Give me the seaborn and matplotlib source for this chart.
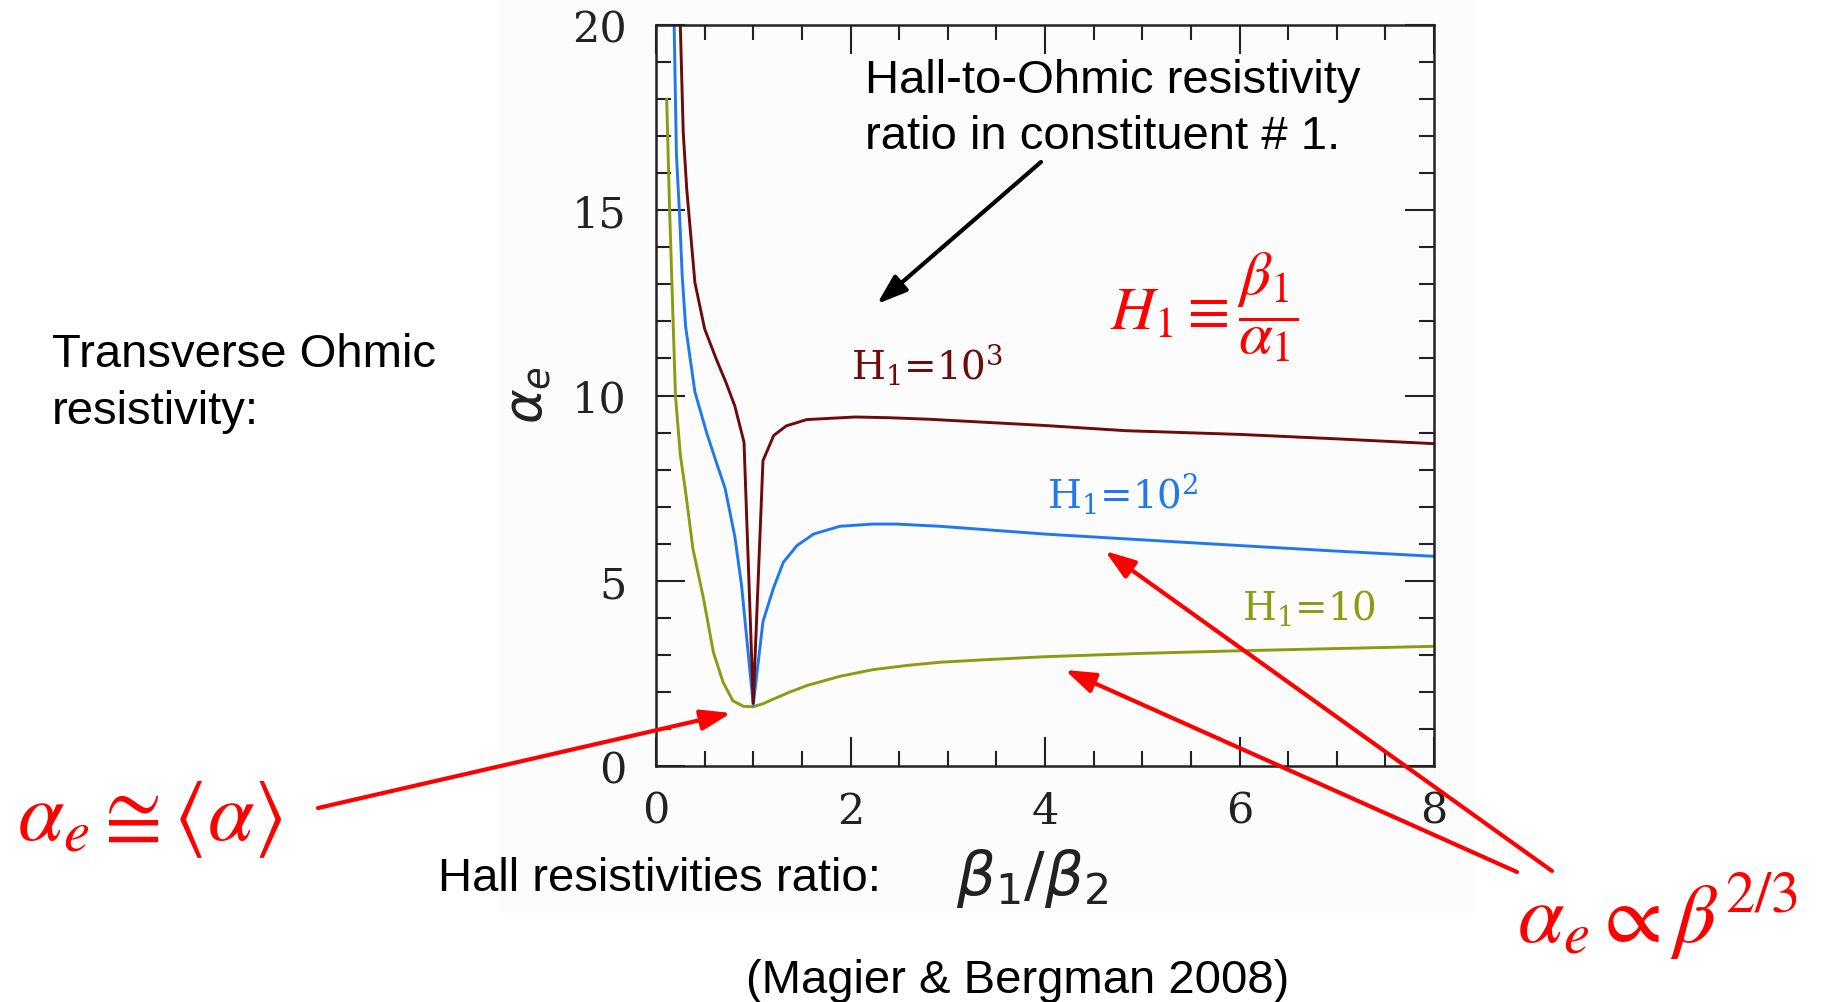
import pandas as pd
import matplotlib
matplotlib.use("Agg")
import matplotlib.pyplot as plt
import seaborn as sns
from matplotlib.ticker import MultipleLocator
from matplotlib.patches import Rectangle

W, H = 1828, 1003

# curves: beta1/beta2 vs alpha_e
ratio_h10 = [0.11, 0.14, 0.20, 0.25, 0.30, 0.38, 0.49, 0.59, 0.69, 0.79, 0.90, 1.00,
             1.10, 1.21, 1.38, 1.55, 1.89, 2.23, 2.60, 2.92, 3.40, 4.00, 5.00, 6.00, 7.00, 8.00]
alpha_h10 = [18.0, 15.0, 10.0, 8.4, 7.48, 5.86, 4.50, 3.07, 2.26, 1.76, 1.61, 1.60,
             1.68, 1.81, 2.00, 2.17, 2.42, 2.60, 2.72, 2.80, 2.87, 2.95, 3.04, 3.11, 3.17, 3.23]

ratio_h100 = [0.18, 0.21, 0.24, 0.27, 0.305, 0.40, 0.52, 0.62, 0.71, 0.81, 0.88, 1.00,
              1.10, 1.21, 1.31, 1.45, 1.62, 1.89, 2.23, 2.47, 2.92, 4.00, 4.83, 6.00, 7.00, 8.00]
alpha_h100 = [21.0, 16.5, 15.0, 13.2, 11.85, 10.1, 9.0, 8.2, 7.5, 6.2, 4.87, 1.65,
              3.9, 4.82, 5.5, 5.95, 6.26, 6.47, 6.53, 6.53, 6.47, 6.26, 6.13, 5.95, 5.80, 5.66]

ratio_h1000 = [0.245, 0.25, 0.28, 0.316, 0.40, 0.50, 0.62, 0.72, 0.81, 0.905, 1.00,
               1.10, 1.21, 1.34, 1.55, 2.05, 2.40, 2.80, 4.00, 4.83, 6.00, 7.00, 8.00]
alpha_h1000 = [21.0, 20.0, 17.1, 15.57, 13.05, 11.8, 10.98, 10.35, 9.72, 8.74, 1.70,
               8.24, 8.92, 9.18, 9.35, 9.42, 9.40, 9.36, 9.19, 9.05, 8.95, 8.83, 8.70]

series_names = ["H1=10", "H1=100", "H1=1000"]
series_colors = ["#8b9b12", "#1f78f0", "#6e0a0a"]
x_ticks = [0, 2, 4, 6, 8]
y_ticks = [0, 5, 10, 15, 20]

df = pd.concat([
    pd.DataFrame({"ratio": ratio_h10, "alpha_e": alpha_h10, "H": series_names[0]}),
    pd.DataFrame({"ratio": ratio_h100, "alpha_e": alpha_h100, "H": series_names[1]}),
    pd.DataFrame({"ratio": ratio_h1000, "alpha_e": alpha_h1000, "H": series_names[2]}),
], ignore_index=True)

sns.set_theme(style="ticks")
plt.rcParams["font.family"] = ["Liberation Sans", "DejaVu Sans"]
plt.rcParams["text.color"] = "black"


def fx(px):
    return px / W


def fy(py):
    return 1 - py / H


fig = plt.figure(figsize=(W / 100, H / 100), dpi=100)
# faint grey panel behind the plot (as in the source slide)
fig.patches.append(Rectangle((fx(500), fy(913)), (1474 - 500) / W, 913 / H,
                             transform=fig.transFigure, color="#fcfcfc", zorder=-5))

ax = fig.add_axes([fx(656), fy(767), (1434 - 656) / W, (767 - 26) / H])
ax.set_facecolor("none")

sns.lineplot(data=df, x="ratio", y="alpha_e", hue="H",
             palette=dict(zip(series_names, series_colors)),
             estimator=None, sort=False, legend=False, linewidth=2.1, ax=ax)

ax.set_xlim(0, 8)
ax.set_ylim(0, 20)
ax.set_xticks(x_ticks)
ax.set_yticks(y_ticks)
ax.set_xticklabels([str(t) for t in x_ticks], fontfamily="DejaVu Serif", fontsize=31)
ax.set_yticklabels([str(t) for t in y_ticks], fontfamily="DejaVu Serif", fontsize=31)
ax.xaxis.set_minor_locator(MultipleLocator(0.5))
ax.yaxis.set_minor_locator(MultipleLocator(1))
ax.tick_params(which="both", direction="in", top=True, right=True,
               width=1.5, color="#222222", labelcolor="#222222")
ax.tick_params(which="major", length=21)
ax.tick_params(axis="x", which="major", pad=17)
ax.tick_params(axis="y", which="major", pad=21)
ax.tick_params(which="minor", length=11)
for s in ax.spines.values():
    s.set_linewidth(1.8)
    s.set_color("#222222")

ax.set_xlabel("")
ax.set_ylabel(r"$\alpha_e$", fontsize=38, math_fontfamily="dejavusans", color="#222222")
ax.yaxis.set_label_coords(-0.132, 0.502)

# curve labels
for txt, col, px, py in [("H$_1$=10$^3$", series_colors[2], 851, 379),
                         ("H$_1$=10$^2$", series_colors[1], 1047, 508),
                         ("H$_1$=10", series_colors[0], 1242, 620)]:
    fig.text(fx(px), fy(py), txt, color=col, fontsize=28, fontfamily="DejaVu Serif",
             math_fontfamily="dejavuserif", va="baseline", ha="left")

# black text
fig.text(fx(865), fy(93), "Hall-to-Ohmic resistivity", fontsize=34, va="baseline")
fig.text(fx(865), fy(149), "ratio in constituent # 1.", fontsize=34, va="baseline")
fig.text(fx(52), fy(367), "Transverse Ohmic", fontsize=34, va="baseline")
fig.text(fx(52), fy(424), "resistivity:", fontsize=34, va="baseline")
fig.text(fx(438), fy(891), "Hall resistivities ratio:", fontsize=34, va="baseline")
fig.text(fx(956), fy(895), r"$\beta_1/\beta_2$", fontsize=44, va="baseline",
         math_fontfamily="dejavusans", color="#222222")
fig.text(fx(1018), fy(993), "(Magier & Bergman 2008)", fontsize=34, va="baseline", ha="center")

# red formulas
fig.text(fx(1110), fy(307), r"$H_1 \equiv \dfrac{\beta_1}{\alpha_1}$", fontsize=44,
         color="red", math_fontfamily="stix", va="center", ha="left")
fig.text(fx(17), fy(840), r"$\alpha_e \cong \langle\alpha\rangle$", fontsize=60,
         color="red", math_fontfamily="stix", va="baseline", ha="left")
fig.text(fx(1517), fy(943), r"$\alpha_e \propto \beta^{2/3}$", fontsize=60,
         color="red", math_fontfamily="stix", va="baseline", ha="left")

# arrows
arrows = [((1041, 163), (877, 305), "black"),
          ((318, 809), (731, 714), "red"),
          ((1517, 873), (1065, 671), "red"),
          ((1552, 872), (1105, 552), "red")]
for (x0, y0), (x1, y1), col in arrows:
    ax.annotate("", xy=(fx(x1), fy(y1)), xytext=(fx(x0), fy(y0)),
                xycoords="figure fraction", textcoords="figure fraction",
                annotation_clip=False,
                arrowprops=dict(arrowstyle="-|>,head_length=1.3,head_width=0.45",
                                mutation_scale=14, lw=3, color=col,
                                shrinkA=0, shrinkB=0))

fig.savefig("out.png", dpi=100)
